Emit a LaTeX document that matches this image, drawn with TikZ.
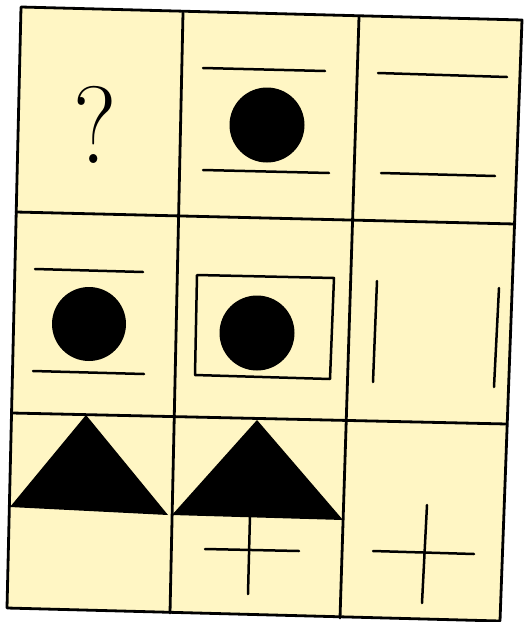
\documentclass[tikz,border=0pt]{standalone}
\usepackage{graphicx}
\definecolor{paper}{RGB}{255,246,196}
\begin{document}
\begin{tikzpicture}[x=1pt,y=-1pt,
  grid/.style={line width=2.8pt,line join=round,line cap=round},
  mark line/.style={line width=2.5pt,line cap=round},
  dot/.style={circle,fill=black,inner sep=0pt,minimum size=75pt}]
\useasboundingbox[fill=white] (0,0) rectangle (528,622);
% sheet
\filldraw[grid,fill=paper] (21,7) -- (522,20) -- (500,621) -- (7,608) -- cycle;
\draw[grid] (16,212) -- (515,224);
\draw[grid] (12,413) -- (507,424);
\draw[grid] (183,13) -- (170,613);
\draw[grid] (359,17) -- (340,618);
% row 1
\node[inner sep=0pt] (q) at (95,125) {\fontsize{100}{100}\selectfont\scalebox{1}[1.1]{?}};
\node[dot] (c12) at (267,125) {};
\draw[mark line] (203,68) -- (325,71);
\draw[mark line] (203,170) -- (329,173);
\draw[mark line] (378,73) -- (507,77);
\draw[mark line] (381,173) -- (495,176);
% row 2
\draw[mark line] (35,269) -- (143,272);
\draw[mark line] (33,371) -- (144,374);
\node[dot,minimum size=74pt] (c21) at (89,324) {};
\draw[mark line,line join=round] (197,275) -- (334,278) -- (330,379) -- (195,375) -- cycle;
\node[dot] (c22) at (257,333) {};
\draw[mark line] (377,281) -- (373,382);
\draw[mark line] (499,288) -- (494,387);
% row 3
\fill[black] (86,415) -- (168,515) -- (10,507) -- cycle;
\fill[black] (257,420) -- (343,520) -- (172,515) -- cycle;
\draw[mark line] (205,549) -- (299,551);
\draw[mark line] (250,515) -- (248,594);
\draw[mark line] (373,551) -- (474,554);
\draw[mark line] (427,505) -- (422,603);
\end{tikzpicture}
\end{document}
